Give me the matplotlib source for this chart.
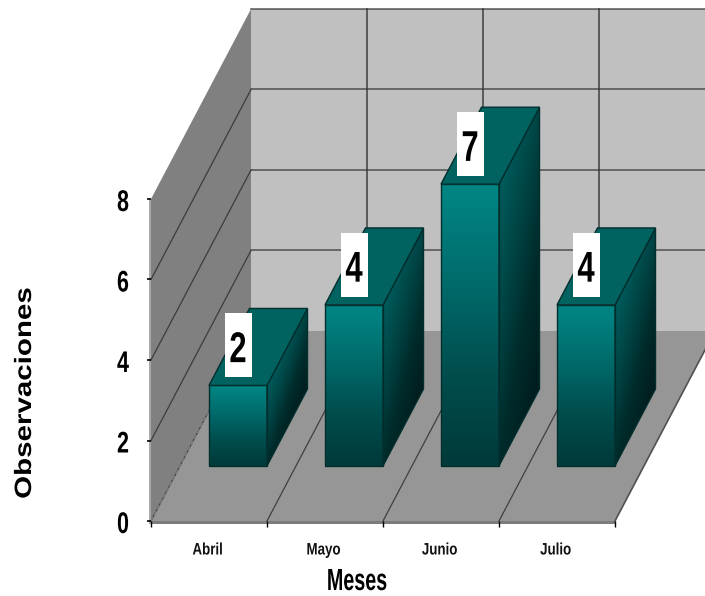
import matplotlib
matplotlib.use("Agg")
import matplotlib.pyplot as plt
import matplotlib.patheffects as pe
from matplotlib.patches import Polygon, Rectangle
from matplotlib.colors import LinearSegmentedColormap
from matplotlib.transforms import Affine2D
import numpy as np

meses = ["Abril", "Mayo", "Junio", "Julio"]
observaciones = [2, 4, 7, 4]
yticks = [0, 2, 4, 6, 8]

font = "Liberation Sans"

# pixel scale of one category / one unit on the value axis
PX_X, PX_Y = 116.0, 40.25
X0, Y0 = 151.0, 521.0
W, H = 705.0, 596.0
# oblique shift of the whole floor depth, in data units
DX, DY = 100.0 / PX_X, 190.0 / PX_Y
BAR_W = 0.5
D0, D1 = 0.29, 0.695
YMAX = 8


def proj(x, y, d=0.0):
    return (x + d * DX, y + d * DY)


class Squeeze(pe.AbstractPathEffect):
    # scales drawn glyphs about a fixed point, there is no condensed bold face installed
    def __init__(self, xy, sx=1.0, sy=1.0):
        super().__init__()
        self.xy, self.sx, self.sy = xy, sx, sy

    def draw_path(self, renderer, gc, tpath, affine, rgbFace=None):
        cx, cy = ax.transData.transform(self.xy)
        extra = Affine2D().translate(-cx, -cy).scale(self.sx, self.sy).translate(cx, cy)
        renderer.draw_path(gc, tpath, affine + extra, rgbFace)


def label(x, y, s, size, sx=1.0, sy=1.0, **kw):
    t = ax.text(x, y, s, ha="center", va="center", fontsize=size, fontweight="bold",
                family=font, **kw)
    t.set_path_effects([Squeeze((x, y), sx, sy)])
    return t


fig = plt.figure(figsize=(W / 100, H / 100), dpi=100)
ax = fig.add_axes([0, 0, 1, 1])
xlim = (-X0 / PX_X, (W - X0) / PX_X)
ylim = ((Y0 - H) / PX_Y, Y0 / PX_Y)
ax.axis("off")

n = len(meses)
grid = "#3c3c3c"

# walls and floor
ax.add_patch(Polygon([proj(0, 0, 1), proj(n, 0, 1), proj(n, YMAX, 1), proj(0, YMAX, 1)],
                     fc="#c0c0c0", ec="none", zorder=1))
ax.add_patch(Polygon([proj(0, 0), proj(0, 0, 1), proj(0, YMAX, 1), proj(0, YMAX)],
                     fc="#808080", ec="none", zorder=1))
ax.add_patch(Polygon([proj(0, 0), proj(n, 0), proj(n, 0, 1), proj(0, 0, 1)],
                     fc="#969696", ec="none", zorder=2))
# thin front lip of the floor and of the side wall
ax.add_patch(Rectangle((0, -3 / PX_Y), n, 3 / PX_Y, fc="#7c7c7c", ec="none", zorder=2))
ax.add_patch(Rectangle((-2 / PX_X, -3 / PX_Y), 2 / PX_X, YMAX + 3 / PX_Y, fc="#a8a8a8", ec="none", zorder=2))

# gridlines, back wall then side wall
for v in yticks[1:]:
    ax.plot(*zip(proj(0, v, 1), proj(n + 1, v, 1)), color=grid, lw=1.1, alpha=0.85, zorder=3)
    if v < YMAX:
        ax.plot(*zip(proj(0, v), proj(0, v, 1)), color=grid, lw=0.9, zorder=3)
for c in range(1, n):
    ax.plot(*zip(proj(c, 0, 1), proj(c, YMAX, 1)), color="#303030", lw=1.1, alpha=0.9, zorder=3)
for c in range(n):
    ax.plot(*zip(proj(c, 0), proj(c, 0, 1)), color="#404040", lw=0.9, zorder=3)
ax.plot(*zip(proj(n, 0), proj(n, 0, 1)), color="#505050", lw=1.2, zorder=3)
ax.plot(*zip(proj(0, 0), proj(0, 0, 1)), color="#808080", lw=0.9, ls="--", zorder=3)

# tick marks
for v in yticks:
    ax.plot([-4 / PX_X, 0], [v, v], color="black", lw=1.2, zorder=4, solid_capstyle="butt")
    label(-28 / PX_X, v - 4 / PX_Y, str(v), 21.5, sx=0.72, zorder=5)
for c in range(n + 1):
    ax.plot([c, c], [-6 / PX_Y, 0], color="black", lw=1.0, zorder=4, solid_capstyle="butt")

front_cmap = LinearSegmentedColormap.from_list("front", ["#008684", "#006c6c", "#004e4e", "#003a3a"])
side_cmap = LinearSegmentedColormap.from_list("side", ["#005c5c", "#004646", "#002c2c", "#001e1e"])


def shaded(poly_pts, img, cmap, z):
    pts = np.array(poly_pts)
    im = ax.imshow(img, cmap=cmap, vmin=0, vmax=1, aspect="auto", origin="upper",
                   extent=(pts[:, 0].min(), pts[:, 0].max(), pts[:, 1].min(), pts[:, 1].max()),
                   interpolation="bilinear", zorder=z)
    clip = Polygon(poly_pts, transform=ax.transData, fc="none", ec="none")
    ax.add_patch(clip)
    im.set_clip_path(clip)
    ax.add_patch(Polygon(poly_pts, fc="none", ec="#032e2e", lw=1.0, zorder=z + 0.1))


for i, (mes, val) in enumerate(zip(meses, observaciones)):
    z = 6 + i
    x0, x1 = i + 0.5 - BAR_W / 2, i + 0.5 + BAR_W / 2
    front = [proj(x0, 0, D0), proj(x1, 0, D0), proj(x1, val, D0), proj(x0, val, D0)]
    side = [proj(x1, 0, D0), proj(x1, 0, D1), proj(x1, val, D1), proj(x1, val, D0)]
    top = [proj(x0, val, D0), proj(x1, val, D0), proj(x1, val, D1), proj(x0, val, D1)]

    grad = np.linspace(0, 1, 64).reshape(-1, 1)
    shaded(front, grad, front_cmap, z)

    # side face: shear the vertical gradient with the face, darker towards the back
    u, v = np.meshgrid(np.linspace(0, 1, 48), np.linspace(0, 1, 128))
    rise = (D1 - D0) * DY
    t = rise / (val + rise)
    local = np.clip((v - (1 - u) * t) / (1 - t), 0, 1)
    shaded(side, np.clip(0.7 * local + 0.35 * u, 0, 1), side_cmap, z)

    ax.add_patch(Polygon(top, fc="#006360", ec="#032e2e", lw=1.0, zorder=z + 0.2))

    # value label on a white box above the front of the bar
    lx, ly = proj(i + 0.5, val + 1.0, D0)
    bw, bh = 27 / PX_X, 64 / PX_Y
    ax.add_patch(Rectangle((lx - bw / 2, ly - bh / 2), bw, bh, fc="white", ec="none", zorder=20))
    label(lx, ly - 6 / PX_Y, str(val), 31, sx=0.72, zorder=21)

    label(i + 0.5 - 1.5 / PX_X, -29 / PX_Y, mes, 12, sx=0.8, color="#111111", zorder=5)

label((357 - X0) / PX_X, (Y0 - 582) / PX_Y, "Meses", 22, sx=0.645, zorder=5)
label((24.5 - X0) / PX_X, (Y0 - 393) / PX_Y, "Observaciones", 17, sy=1.25, rotation=90, zorder=5)

ax.set_xlim(xlim)
ax.set_ylim(ylim)
fig.savefig("out.png", dpi=100)
